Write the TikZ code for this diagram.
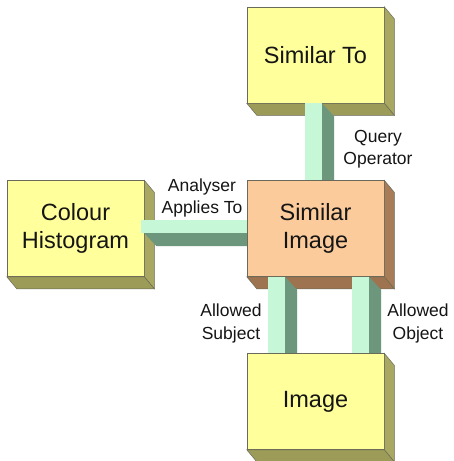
\documentclass[tikz,border=0pt]{standalone}
\usepackage{fontspec}
\setmainfont{Liberation Sans}
\usetikzlibrary{calc}
\definecolor{edge}{HTML}{6A6A5A}
\definecolor{yfront}{HTML}{FFFF9C}
\definecolor{yside}{HTML}{A8A862}
\definecolor{ybottom}{HTML}{9C9C58}
\definecolor{pfront}{HTML}{FCCB9C}
\definecolor{pside}{HTML}{A87C56}
\definecolor{pbottom}{HTML}{9E7450}
\definecolor{barlight}{HTML}{C6F7D6}
\definecolor{bardark}{HTML}{6C977C}
\definecolor{ink}{HTML}{151515}
\pgfdeclarelayer{back}
\pgfdeclarelayer{l1}
\pgfdeclarelayer{l2}
\pgfdeclarelayer{l3}
\pgfdeclarelayer{l4}
\pgfdeclarelayer{l5}
\pgfsetlayers{back,l1,l2,l3,l4,l5,main}
% side and bottom faces of an extruded block
\newcommand\blocksides[3]{%
  \filldraw[fill=#2,draw=edge,line width=0.5pt] (#1.north east) -- ++(10,12)
    -- ($(#1.south east)+(10,12)$) -- (#1.south east) -- cycle;
  \filldraw[fill=#3,draw=edge,line width=0.5pt] (#1.south west) -- (#1.south east)
    -- ++(10,12) -- ($(#1.south west)+(10,12)$) -- cycle;}
% vertical bar from the bottom of #1 to the top of #2, left edge shifted by #3
\newcommand\vertbar[3]{%
  \fill[bardark] ($(#1.south)+(#3+17,0)$) -- ++(12,13)
    -- ($(#2.north)+(#3+29,13)$) -- ($(#2.north)+(#3+17,0)$) -- cycle;
  \fill[barlight] ($(#1.south)+(#3,0)$) rectangle ($(#2.north)+(#3+17,0)$);}
% horizontal bar from the right of #1 to the left of #2
\newcommand\horizbar[2]{%
  \fill[bardark] ($(#1.east)+(0,4.5)$) -- ++(12,13)
    -- ($(#2.west)+(12,17.5)$) -- ($(#2.west)+(0,4.5)$) -- cycle;
  \fill[barlight] ($(#1.east)+(-3,-8.5)$) rectangle ($(#2.west)+(0,4.5)$);}
\begin{document}
\begin{tikzpicture}[x=1pt,y=-1pt,
  block/.style={draw=edge,line width=0.5pt,minimum width=137pt,minimum height=96pt,
    inner sep=0pt,align=center,text=ink,font=\fontsize{23.5}{28.5}\selectfont},
  yblock/.style={block,fill=yfront},
  pblock/.style={block,fill=pfront},
  lbl/.style={align=center,text=ink,inner sep=0pt,font=\fontsize{17.5}{22.5}\selectfont}]
\useasboundingbox (0,0) rectangle (453,461);
\begin{pgfonlayer}{back}
  \fill[white] (0,0) rectangle (453,461);
\end{pgfonlayer}

\begin{pgfonlayer}{l1}
  \node[yblock] (st) at (315.5,55) {Similar To};
  \blocksides{st}{yside}{ybottom}
  \node[yblock] (ch) at (75.5,228.5) {Colour\\Histogram};
  \blocksides{ch}{yside}{ybottom}
\end{pgfonlayer}
\begin{pgfonlayer}{l3}
  \node[pblock] (si) at (315.5,228.5) {Similar\\Image};
  \blocksides{si}{pside}{pbottom}
\end{pgfonlayer}
\begin{pgfonlayer}{l5}
  \node[yblock] (im) at (315.5,401.5) {Image};
  \blocksides{im}{yside}{ybottom}
\end{pgfonlayer}

\begin{pgfonlayer}{l2}
  \vertbar{st}{si}{-10.5}
  \horizbar{ch}{si}
\end{pgfonlayer}
\begin{pgfonlayer}{l4}
  \vertbar{si}{im}{-47.5}
  \vertbar{si}{im}{36.5}
\end{pgfonlayer}

\node[lbl] (qo) at (378,149) {Query\\Operator};
\node[lbl] (aa) at (202,198) {Analyser\\Applies To};
\node[lbl] (as) at (231,323.5) {Allowed\\Subject};
\node[lbl] (ao) at (418,323.5) {Allowed\\Object};
\end{tikzpicture}
\end{document}
